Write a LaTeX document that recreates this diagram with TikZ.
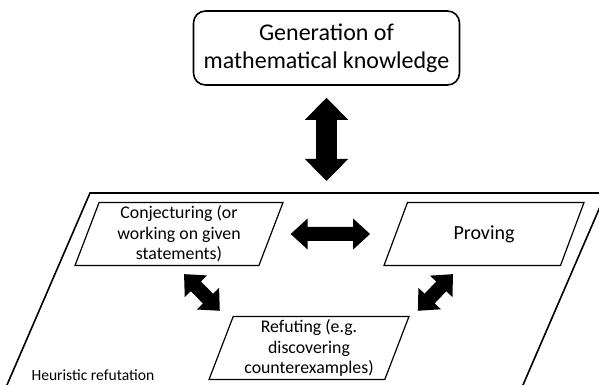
\documentclass[tikz,border=0pt]{standalone}
\usepackage{fontspec}
\setmainfont{Carlito}
\usetikzlibrary{shapes.geometric,arrows.meta}

\begin{document}
\begin{tikzpicture}[x=1pt,y=1pt,
  genbox/.style={draw,line width=1.6pt,rounded corners=12pt,minimum width=266pt,minimum height=74pt,align=center,font=\fontsize{24}{28}\selectfont},
  activity/.style={draw,line width=1.2pt,trapezium,trapezium left angle=69,trapezium right angle=111,trapezium stretches body,minimum height=63pt,align=center,inner xsep=2pt,font=\fontsize{17.8}{20.3}\selectfont},
  bigarrow/.style={line width=21pt,{Triangle[width=42pt,length=22pt]}-{Triangle[width=42pt,length=22pt]}},
  midarrow/.style={line width=14pt,{Triangle[width=30pt,length=17pt]}-{Triangle[width=30pt,length=17pt]}}]
\useasboundingbox (0,0) rectangle (599,385);
\clip (0,0) rectangle (599,385);

% outer frame (runs off the page)
\draw[line width=1.6pt] (0.5,-15) -- (90,192) -- (606,192) -- (516.5,-15);
\coordinate (frametop) at (90,192);

\node[genbox] (gen) at (326.5,337) {Generation of\\mathematical knowledge};

\node[activity,minimum width=208pt] (conj) at (179,151) {Conjecturing (or\\working on given\\statements)};
\node[activity,minimum width=200pt,inner ysep=22pt,font=\fontsize{20}{24}\selectfont] (prov) at (484,151) {Proving};
\node[activity,minimum width=200pt] (ref) at (309,37) {Refuting (e.g.\\discovering\\counterexamples)};

\node[anchor=base west,font=\fontsize{15.6}{18}\selectfont] (heur) at (28,5) {Heuristic refutation};

% block arrows
\draw[bigarrow,shorten <=12pt,shorten >=12pt] (gen.south) -- (gen.south |- frametop);
\draw[midarrow,shorten <=19pt,shorten >=25pt] (conj.east) -- (prov.west);
\draw[midarrow] ([xshift=5pt,yshift=-8pt]conj.south) -- ([xshift=-13pt,yshift=5pt]ref.top left corner);
\draw[midarrow] ([xshift=8pt,yshift=5pt]ref.top right corner) -- ([xshift=-31pt,yshift=-8pt]prov.south);
\end{tikzpicture}
\end{document}
